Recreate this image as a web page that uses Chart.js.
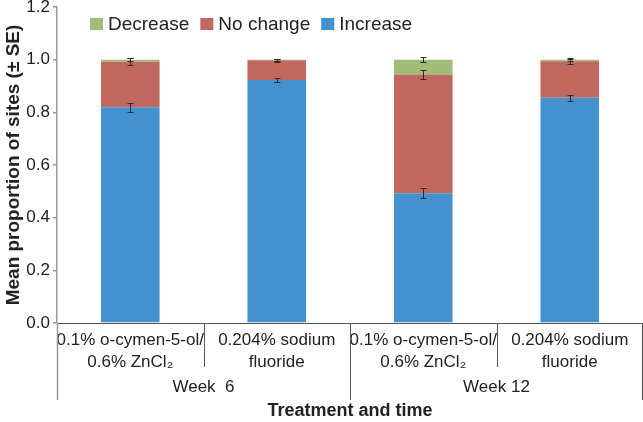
<!DOCTYPE html>
<html>
<head>
<meta charset="utf-8">
<script src="https://cdn.jsdelivr.net/npm/chart.js@4.4.1/dist/chart.umd.min.js"></script>
<style>
  html, body { margin: 0; padding: 0; background: #fff; }
  #wrap { width: 643px; height: 422px; }
</style>
</head>
<body>
<div id="wrap"><canvas id="chart" width="643" height="422"></canvas></div>
<script>
  // Treatment labels, one per bar
  const treatments = [
    ['0.1% o-cymen-5-ol/', '0.6% ZnCl₂'],
    ['0.204% sodium', 'fluoride'],
    ['0.1% o-cymen-5-ol/', '0.6% ZnCl₂'],
    ['0.204% sodium', 'fluoride']
  ];
  const weeks = ['Week  6', 'Week 12'];
  const yTicks = [0, 0.2, 0.4, 0.6, 0.8, 1.0, 1.2];

  // Mean proportions, stacked bottom to top
  const increase = [0.819, 0.923, 0.493, 0.855];
  const noChange = [0.173, 0.075, 0.451, 0.139];
  const decrease = [0.008, 0.002, 0.056, 0.006];

  // Standard errors, drawn at the top of each segment
  const seIncrease = [0.016, 0.008, 0.018, 0.012];
  const seNoChange = [0.013, 0.006, 0.016, 0.010];
  const seDecrease = [0.006, 0.004, 0.009, 0.006];

  const FONT = '"Liberation Sans", Arial, Helvetica, sans-serif';
  Chart.defaults.font.family = FONT;
  Chart.defaults.color = '#222';

  // error bars on top of each stacked segment
  const errorBars = {
    id: 'errorBars',
    afterDatasetsDraw(chart) {
      const ctx = chart.ctx, ys = chart.scales.y;
      const vals = [increase, noChange, decrease];
      const ses = [seIncrease, seNoChange, seDecrease];
      ctx.save();
      ctx.strokeStyle = '#2b2b2b';
      ctx.lineWidth = 1;
      treatments.forEach((t, j) => {
        let top = 0;
        vals.forEach((v, i) => {
          top += v[j];
          const x = Math.round(chart.getDatasetMeta(i).data[j].x) + 0.5;
          const y1 = Math.round(ys.getPixelForValue(top - ses[i][j])) + 0.5;
          const y2 = Math.round(ys.getPixelForValue(top + ses[i][j])) + 0.5;
          ctx.beginPath();
          ctx.moveTo(x, y1); ctx.lineTo(x, y2);
          ctx.moveTo(x - 3, y1); ctx.lineTo(x + 3, y1);
          ctx.moveTo(x - 3, y2); ctx.lineTo(x + 3, y2);
          ctx.stroke();
        });
      });
      ctx.restore();
    }
  };

  // separators and week labels under the treatment labels
  const groupAxis = {
    id: 'groupAxis',
    afterDraw(chart) {
      const ctx = chart.ctx, xs = chart.scales.x;
      const step = xs.width / treatments.length;
      const y0 = xs.top;
      ctx.save();
      for (let i = 0; i <= treatments.length; i++) {
        let x = Math.round(xs.left + i * step) + 0.5;
        if (x > chart.width) x = chart.width - 0.5;
        const major = i % 2 === 0;
        ctx.strokeStyle = i === 0 ? '#999' : '#555';
        ctx.lineWidth = i === 0 ? 1.5 : 1;
        ctx.beginPath();
        ctx.moveTo(x, y0);
        ctx.lineTo(x, y0 + (major ? 77 : 44));
        ctx.stroke();
      }
      ctx.fillStyle = '#222';
      ctx.font = '17px ' + FONT;
      ctx.textAlign = 'center';
      ctx.textBaseline = 'middle';
      weeks.forEach((w, k) => {
        ctx.fillText(w, xs.left + (2 * k + 1) * step, y0 + 64);
      });
      ctx.restore();
    }
  };

  // one-row legend inside the plot, top to bottom order reversed
  const rowLegend = {
    id: 'rowLegend',
    afterDraw(chart) {
      const ctx = chart.ctx;
      const items = chart.data.datasets.slice().reverse();
      let x = chart.chartArea.left + 33;
      const yc = 24;
      ctx.save();
      ctx.font = '19px ' + FONT;
      ctx.textAlign = 'left';
      ctx.textBaseline = 'middle';
      items.forEach(ds => {
        ctx.fillStyle = ds.backgroundColor;
        ctx.fillRect(x, yc - 6, 13, 12);
        ctx.fillStyle = '#222';
        ctx.fillText(ds.label, x + 18, yc + 1);
        x += 18 + ctx.measureText(ds.label).width + 11;
      });
      ctx.restore();
    }
  };

  const ctx = document.getElementById('chart').getContext('2d');
  const chart = new Chart(ctx, {
    type: 'bar',
    data: {
      labels: treatments,
      datasets: [
        { label: 'Increase', data: increase, backgroundColor: '#4392cf' },
        { label: 'No change', data: noChange, backgroundColor: '#c0685f' },
        { label: 'Decrease', data: decrease, backgroundColor: '#a0bd78' }
      ]
    },
    options: {
      responsive: false,
      animation: false,
      devicePixelRatio: 1,
      layout: { padding: 0 },
      datasets: {
        bar: { barPercentage: 0.4, categoryPercentage: 1.0, borderWidth: 0 }
      },
      plugins: {
        tooltip: { enabled: false },
        legend: { display: false }
      },
      scales: {
        x: {
          stacked: true,
          grid: { display: false },
          border: { color: '#555', width: 1 },
          ticks: {
            color: '#222',
            font: { size: 17, lineHeight: 1.3 },
            padding: -2,
            maxRotation: 0,
            autoSkip: false
          },
          title: {
            display: true,
            text: 'Treatment and time',
            color: '#222',
            font: { size: 18, weight: 'bold' },
            padding: { top: 0, bottom: 0 }
          },
          afterFit(s) { s.height = 99; s.paddingLeft = 0; s.paddingRight = 0; }
        },
        y: {
          stacked: true,
          min: 0,
          max: 1.2,
          afterBuildTicks(s) { s.ticks = yTicks.map(v => ({ value: v })); },
          grid: { drawOnChartArea: false, tickLength: 4, color: '#999', lineWidth: 1.5 },
          border: { color: '#999', width: 1.5 },
          ticks: {
            color: '#222',
            font: { size: 17 },
            padding: 3,
            callback: v => v.toFixed(1)
          },
          title: {
            display: true,
            text: 'Mean proportion of sites (± SE)',
            color: '#222',
            font: { size: 19, weight: 'bold' },
            padding: { top: 2, bottom: 0 }
          },
          afterFit(s) { s.width = 57; s.paddingTop = 7; s.paddingBottom = 0; }
        }
      }
    },
    plugins: [errorBars, groupAxis, rowLegend]
  });
</script>
</body>
</html>
